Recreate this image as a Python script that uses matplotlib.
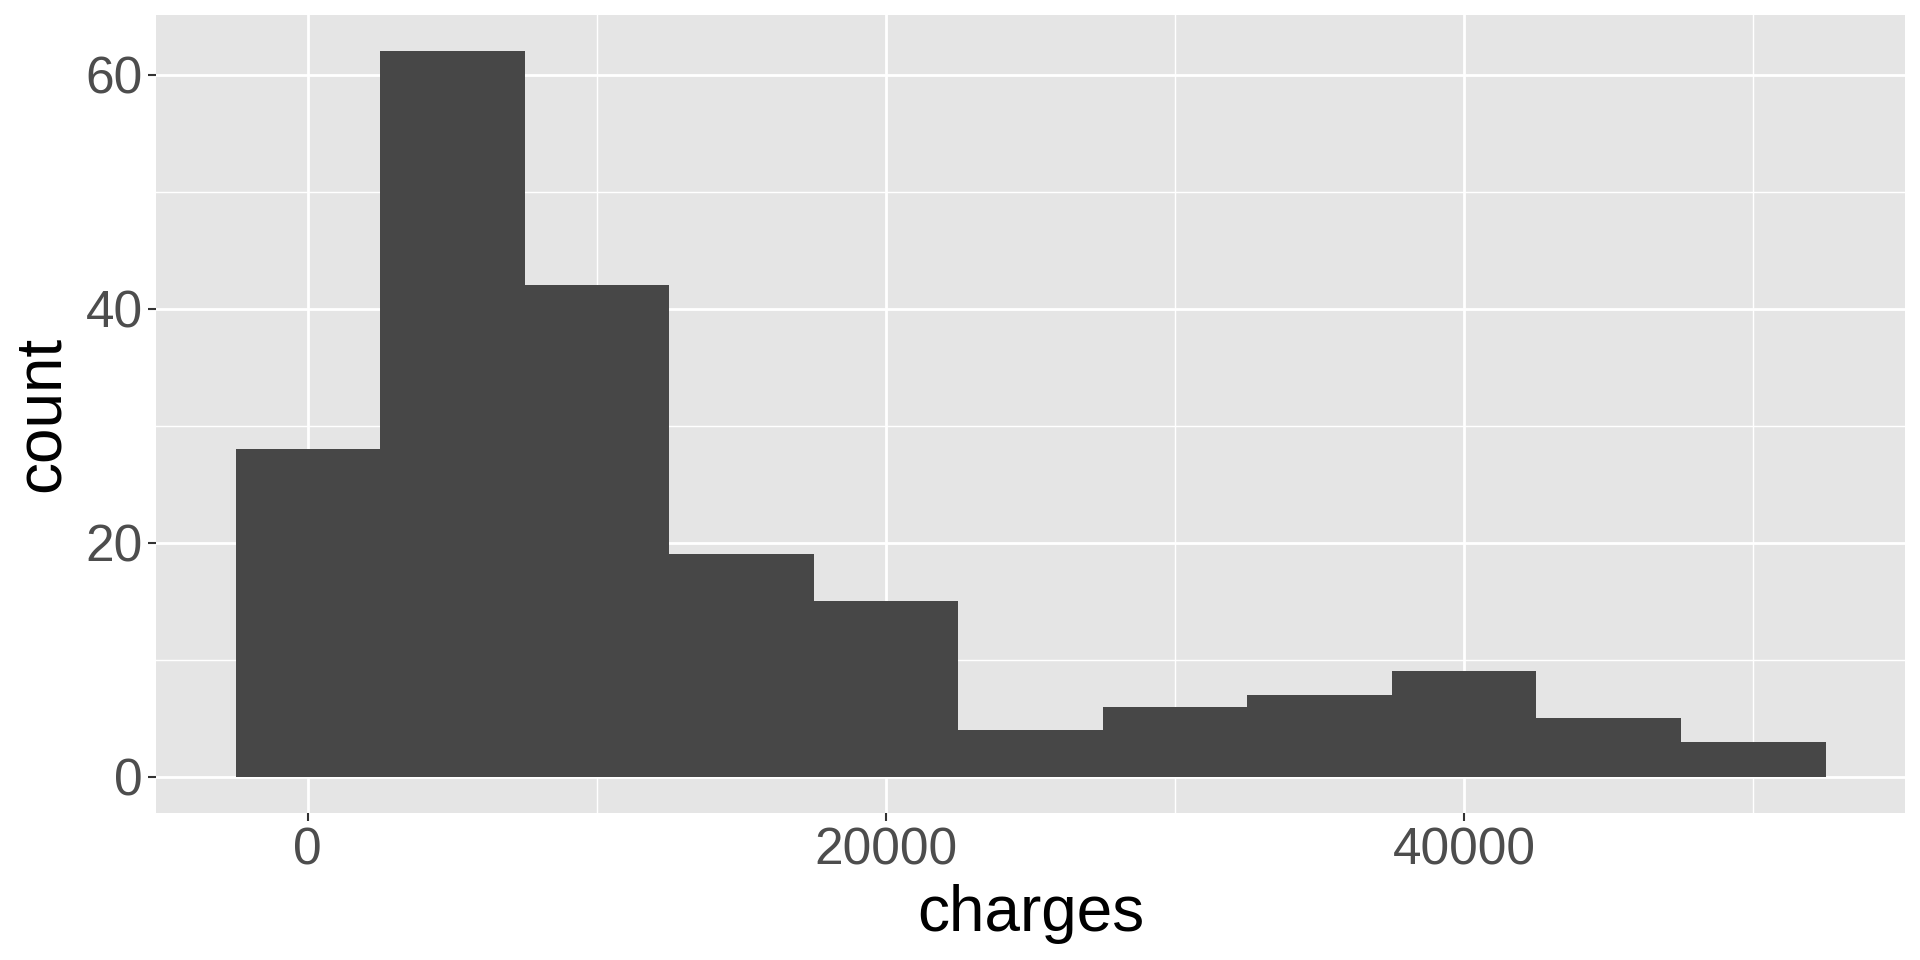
import matplotlib
matplotlib.use("Agg")
import matplotlib.pyplot as plt
from matplotlib.ticker import MultipleLocator

bin_centers = [0, 5000, 10000, 15000, 20000, 25000, 30000, 35000, 40000, 45000, 50000]
counts = [28, 62, 42, 19, 15, 4, 6, 7, 9, 5, 3]
bin_width = 5000
x_ticks = [0, 20000, 40000]
y_ticks = [0, 20, 40, 60]

plt.rcParams['font.family'] = ['Liberation Sans', 'DejaVu Sans']

W, H = 1920, 960
fig = plt.figure(figsize=(W / 100, H / 100), dpi=100)
left, right, top, bottom = 156, 1905, 15, 813
ax = fig.add_axes([left / W, 1 - bottom / H, (right - left) / W, (bottom - top) / H])
ax.set_facecolor('#E5E5E5')

ax.bar(bin_centers, counts, width=bin_width, color='#474747', linewidth=0, zorder=3)

xmin = bin_centers[0] - bin_width / 2
xmax = bin_centers[-1] + bin_width / 2
xr = xmax - xmin
ax.set_xlim(xmin - 0.05 * xr, xmax + 0.05 * xr)
ymax = max(counts)
ax.set_ylim(-0.05 * ymax, ymax * 1.05)

ax.set_xticks(x_ticks)
ax.set_xticklabels([str(t) for t in x_ticks])
ax.set_yticks(y_ticks)
ax.xaxis.set_minor_locator(MultipleLocator(10000))
ax.yaxis.set_minor_locator(MultipleLocator(10))

ax.grid(which='major', color='white', linewidth=2.0, zorder=1)
ax.grid(which='minor', color='white', linewidth=1.0, zorder=1)
ax.set_axisbelow(True)

for s in ax.spines.values():
    s.set_visible(False)

ax.tick_params(which='major', length=5.5, width=1.5, color='#333333',
               labelsize=37, labelcolor='#4D4D4D', pad=4)
ax.tick_params(which='minor', length=0)

ax.set_xlabel('charges', fontsize=46, color='black', labelpad=6)
ax.set_ylabel('count', fontsize=46, color='black', labelpad=10)

fig.savefig('out.png', dpi=100, facecolor='white')
